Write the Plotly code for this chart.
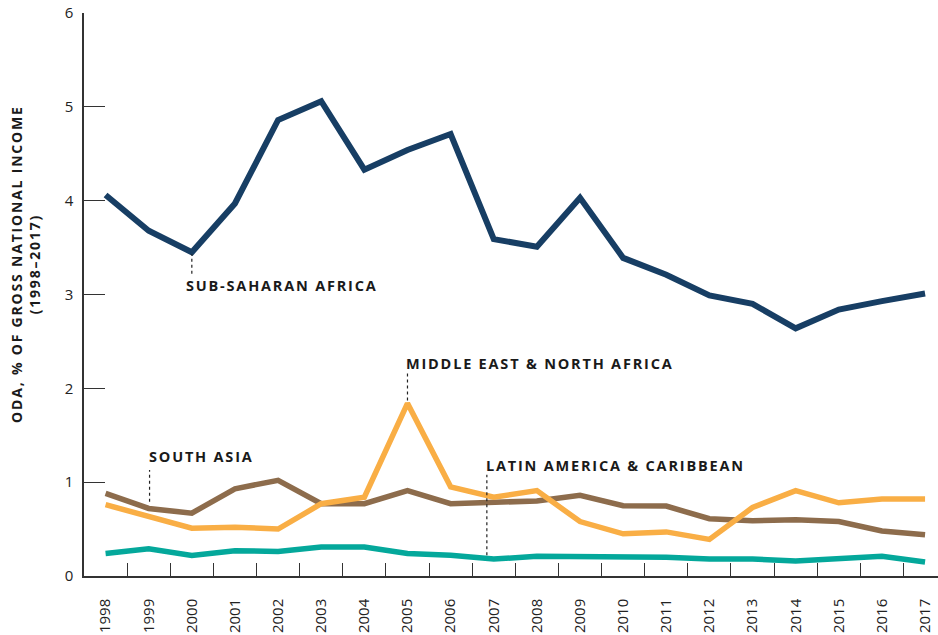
import plotly.graph_objects as go

years = [str(y) for y in range(1998, 2018)]

sub_saharan_africa = [4.06, 3.68, 3.45, 3.97, 4.86, 5.06, 4.33, 4.54, 4.71, 3.59,
                      3.51, 4.03, 3.39, 3.21, 2.99, 2.90, 2.64, 2.84, 2.93, 3.01]
middle_east_north_africa = [0.76, 0.63, 0.51, 0.52, 0.50, 0.77, 0.84, 1.84, 0.95, 0.84,
                            0.91, 0.58, 0.45, 0.47, 0.39, 0.73, 0.91, 0.78, 0.82, 0.82]
south_asia = [0.88, 0.72, 0.67, 0.93, 1.02, 0.77, 0.77, 0.91, 0.77, 0.78,
              0.80, 0.86, 0.75, 0.745, 0.61, 0.59, 0.60, 0.58, 0.48, 0.44]
latin_america_caribbean = [0.24, 0.29, 0.22, 0.27, 0.26, 0.31, 0.31, 0.24, 0.22, 0.18,
                           0.21, 0.21, 0.21, 0.20, 0.18, 0.18, 0.16, 0.19, 0.21, 0.15]

y_ticks = [0, 1, 2, 3, 4, 5, 6]

series = [
    ("Sub-Saharan Africa", sub_saharan_africa, "#173E64", 6),
    ("South Asia", south_asia, "#8D6C4C", 5.5),
    ("Middle East & North Africa", middle_east_north_africa, "#F9AE45", 5.5),
    ("Latin America & Caribbean", latin_america_caribbean, "#04A89B", 5.5),
]

fig = go.Figure()
for name, vals, color, w in series:
    fig.add_trace(go.Scatter(x=years, y=vals, mode="lines", name=name,
                             line=dict(color=color, width=w), showlegend=False,
                             hoverinfo="skip"))

label_font = dict(family="Open Sans", size=14.5, color="#1a1a1a", weight="bold")
labels = [
    ("SUB-SAHARAN AFRICA", 1.81, 3.10, 2, 3.22, 3.43),
    ("MIDDLE EAST & NORTH AFRICA", 6.91, 2.27, 7, 1.87, 2.17),
    ("LATIN AMERICA & CARIBBEAN", 8.77, 1.18, 8.84, 0.22, 1.08),
    ("SOUTH ASIA", 0.95, 1.27, 1.02, 0.79, 1.13),
]
for text, lx, ly, dx, dy0, dy1 in labels:
    fig.add_annotation(x=lx, y=ly, xref="x", yref="y", text=text, showarrow=False,
                       xanchor="left", yanchor="middle", align="left", font=label_font)
    fig.add_shape(type="line", xref="x", yref="y", x0=dx, x1=dx, y0=dy0, y1=dy1,
                  line=dict(color="#222222", width=1.2, dash="dot"))

fig.add_annotation(x=(25 - 84) / 854, y=(576 - 264) / 563, xref="paper", yref="paper",
                   text="ODA, % OF GROSS NATIONAL INCOME<br>(1998–2017)",
                   textangle=-90, showarrow=False, xanchor="center", yanchor="middle",
                   align="center",
                   font=dict(family="Open Sans", size=14, color="#1a1a1a", weight="bold"))

fig.update_layout(
    width=938, height=635,
    margin=dict(l=84, r=0, t=13, b=59, autoexpand=False),
    paper_bgcolor="white", plot_bgcolor="white",
    font=dict(family="Open Sans", color="#222222"),
)
fig.update_xaxes(type="category", range=[-0.5, 19.3], tickson="boundaries",
                 ticks="inside", ticklen=13, tickwidth=1.3, tickcolor="#333333",
                 showline=True, linecolor="#333333", linewidth=1.5,
                 showgrid=False, zeroline=False, tickangle=-90, automargin=False,
                 tickfont=dict(size=15, color="#222222"), ticklabelstandoff=15)
fig.update_yaxes(range=[0, 6], tickvals=y_ticks, ticktext=[str(v) for v in y_ticks],
                 ticks="inside", ticklen=21, tickwidth=1.3, tickcolor="#333333",
                 showline=True, linecolor="#333333", linewidth=1.5, automargin=False,
                 showgrid=False, zeroline=False,
                 tickfont=dict(size=15, color="#222222"), ticklabelstandoff=6)

post = ("var s=document.createElement('style');"
        "s.innerHTML='body{margin:0;overflow:hidden}.annotation-text{letter-spacing:1.8px}';"
        "document.head.appendChild(s);")
fig.write_html("out.html", post_script=post, config={"displayModeBar": False})
